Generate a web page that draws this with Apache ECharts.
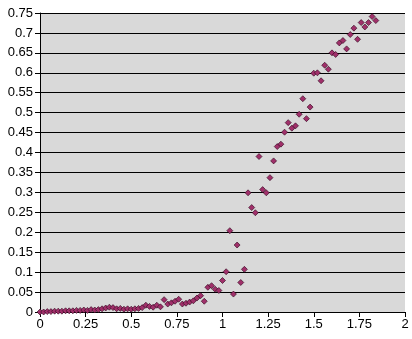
<!DOCTYPE html>
<html>
<head>
<meta charset="utf-8">
<script src="https://cdn.jsdelivr.net/npm/echarts@6/dist/echarts.min.js"></script>
<style>
html,body{margin:0;padding:0;background:#fff;}
#c{width:412px;height:339px;}
</style>
</head>
<body>
<div id="c"></div>
<script>
const xValues = [0.00,0.02,0.04,0.06,0.08,0.10,0.12,0.14,0.16,0.18,
  0.20,0.22,0.24,0.26,0.28,0.30,0.32,0.34,0.36,0.38,
  0.40,0.42,0.44,0.46,0.48,0.50,0.52,0.54,0.56,0.58,
  0.60,0.62,0.64,0.66,0.68,0.70,0.72,0.74,0.76,0.78,
  0.80,0.82,0.84,0.86,0.88,0.90,0.92,0.94,0.96,0.98,
  1.00,1.02,1.04,1.06,1.08,1.10,1.12,1.14,1.16,1.18,
  1.20,1.22,1.24,1.26,1.28,1.30,1.32,1.34,1.36,1.38,
  1.40,1.42,1.44,1.46,1.48,1.50,1.52,1.54,1.56,1.58,
  1.60,1.62,1.64,1.66,1.68,1.70,1.72,1.74,1.76,1.78,
  1.80,1.82,1.84];
const yValues = [0.000,0.000,0.001,0.001,0.002,0.002,0.002,0.003,0.003,0.003,
  0.004,0.004,0.005,0.004,0.006,0.005,0.006,0.008,0.010,0.012,
  0.011,0.008,0.009,0.007,0.008,0.007,0.008,0.009,0.011,0.017,
  0.014,0.012,0.017,0.013,0.031,0.020,0.023,0.027,0.032,0.020,
  0.022,0.025,0.028,0.035,0.041,0.027,0.062,0.066,0.057,0.054,
  0.079,0.101,0.204,0.045,0.168,0.074,0.107,0.299,0.262,0.249,
  0.390,0.307,0.299,0.337,0.379,0.415,0.421,0.451,0.475,0.461,
  0.467,0.496,0.535,0.485,0.514,0.599,0.600,0.580,0.619,0.609,
  0.650,0.646,0.675,0.681,0.660,0.696,0.712,0.684,0.726,0.715,
  0.726,0.741,0.731];

const chart = echarts.init(document.getElementById('c'), null, {renderer:'canvas'});
const pts = xValues.map((x,i)=>[x,yValues[i]]);
const font = {fontFamily:'Liberation Sans, Arial, sans-serif', fontSize:13, color:'#000'};
chart.setOption({
  animation:false,
  backgroundColor:'#fff',
  grid:{left:40, top:13, right:7, bottom:27, show:true, backgroundColor:'#D9D9D9', borderWidth:0},
  xAxis:{type:'value', min:0, max:2, interval:0.25,
    axisLine:{show:true, onZero:false, lineStyle:{color:'#000', width:1}},
    axisTick:{show:true, length:5, inside:false, lineStyle:{color:'#000'}},
    axisLabel:Object.assign({margin:6}, font),
    splitLine:{show:false}},
  yAxis:{type:'value', min:0, max:0.75, interval:0.05,
    axisLine:{show:true, lineStyle:{color:'#000', width:1}},
    axisTick:{show:true, length:5, inside:false, lineStyle:{color:'#000'}},
    axisLabel:Object.assign({margin:7}, font),
    splitLine:{show:true, lineStyle:{color:'#000', width:1}}},
  series:[{type:'scatter', data:pts, symbol:'diamond', symbolSize:6,
    itemStyle:{color:'#A0306A', borderColor:'#2a0018', borderWidth:0.6, opacity:1}}]
});
</script>
</body>
</html>
